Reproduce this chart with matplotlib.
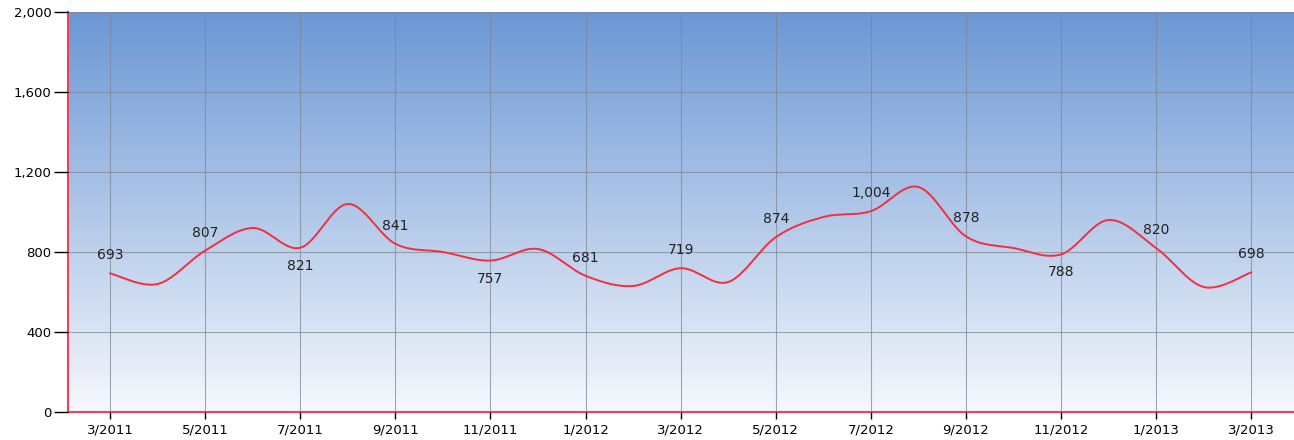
import numpy as np
import matplotlib
matplotlib.use("Agg")
import matplotlib.pyplot as plt
from matplotlib.colors import LinearSegmentedColormap
from matplotlib.ticker import FuncFormatter


# Monthly values, 3/2011 .. 3/2013 (only odd months are labelled on the chart).
months = ["3/2011", "4/2011", "5/2011", "6/2011", "7/2011", "8/2011", "9/2011",
          "10/2011", "11/2011", "12/2011", "1/2012", "2/2012", "3/2012",
          "4/2012", "5/2012", "6/2012", "7/2012", "8/2012", "9/2012",
          "10/2012", "11/2012", "12/2012", "1/2013", "2/2013", "3/2013"]
values = [693, 640, 807, 920, 821, 1040, 841, 800, 757, 815, 681, 630, 719,
          650, 874, 975, 1004, 1125, 878, 820, 788, 960, 820, 625, 698]

# Which points carry a label, and whether it sits above (1) or below (-1).
labelIndex = [0, 2, 4, 6, 8, 10, 12, 14, 16, 18, 20, 22, 24]
labelSide = [1, 1, -1, 1, -1, 1, 1, 1, 1, 1, -1, 1, 1]

tickIndex = labelIndex
tickLabels = [months[i] for i in tickIndex]


def CardinalSpline(x, y, tension=0.5, steps=30):
    # Hermite segments with cardinal tangents, like the smoothed line of the original chart.
    x = np.asarray(x, dtype=float)
    y = np.asarray(y, dtype=float)
    n = len(x)
    mx = np.zeros(n)
    my = np.zeros(n)
    for i in range(n):
        a = max(i - 1, 0)
        b = min(i + 1, n - 1)
        mx[i] = tension * (x[b] - x[a])
        my[i] = tension * (y[b] - y[a])
    xs = []
    ys = []
    t = np.linspace(0, 1, steps)
    h00 = 2 * t**3 - 3 * t**2 + 1
    h10 = t**3 - 2 * t**2 + t
    h01 = -2 * t**3 + 3 * t**2
    h11 = t**3 - t**2
    for i in range(n - 1):
        xs.append(h00 * x[i] + h10 * mx[i] + h01 * x[i + 1] + h11 * mx[i + 1])
        ys.append(h00 * y[i] + h10 * my[i] + h01 * y[i + 1] + h11 * my[i + 1])
    return np.concatenate(xs), np.concatenate(ys)


xPos = np.arange(len(values))

fig = plt.figure(figsize=(12.94, 4.40), dpi=100)
ax = fig.add_axes([68 / 1294, 28 / 440, 1226 / 1294, 400 / 440])

# Vertical gradient background.
cmap = LinearSegmentedColormap.from_list("bg", ["#f6f8fd", "#6a97d4"])
gradient = np.linspace(0, 1, 256).reshape(-1, 1)
ax.imshow(gradient, aspect="auto", cmap=cmap, origin="lower",
          extent=[0, 1, 0, 1], transform=ax.transAxes, zorder=0)

ax.set_xlim(-0.885, 24.9)
ax.set_ylim(0, 2000)

# Grid.
ax.set_xticks(tickIndex)
ax.set_xticklabels(tickLabels)
ax.set_yticks([0, 400, 800, 1200, 1600, 2000])
ax.yaxis.set_major_formatter(FuncFormatter(lambda v, p: format(int(v), ",")))
ax.grid(True, color="#7d8591", linewidth=0.8, alpha=0.7, zorder=1)
ax.set_axisbelow(False)

# Smoothed line.
sx, sy = CardinalSpline(xPos, values)
ax.plot(sx, sy, color="#f0303f", linewidth=1.4, zorder=3)

# Data labels.
for i, side in zip(labelIndex, labelSide):
    ax.annotate(format(values[i], ","), (xPos[i], values[i]),
                xytext=(0, 13 * side), textcoords="offset points",
                ha="center", va="center", fontsize=10, color="#222222", zorder=4)

for s in ["top", "right"]:
    ax.spines[s].set_visible(False)
for s in ["left", "bottom"]:
    ax.spines[s].set_color("#e8435e")
    ax.spines[s].set_linewidth(1.5)

ax.tick_params(axis="y", length=10, width=1, color="black", labelsize=9.5, pad=2)
ax.tick_params(axis="x", length=5, width=1, color="black", labelsize=9.5, pad=3)

fig.savefig("out.png", dpi=100)
